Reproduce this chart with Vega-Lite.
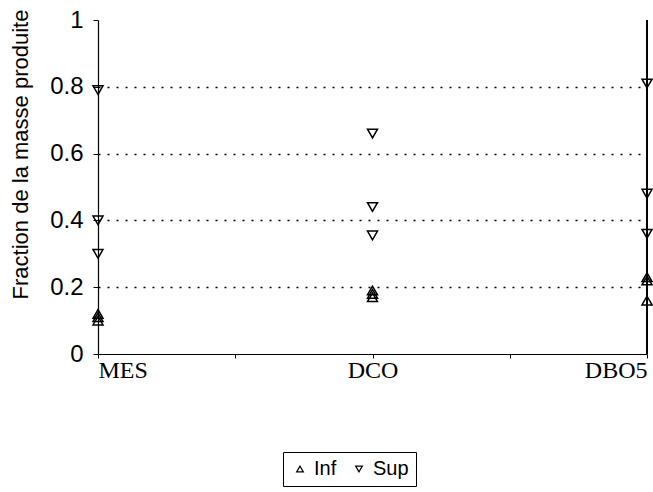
{
  "$schema": "https://vega.github.io/schema/vega-lite/v6.json",
  "autosize": "none",
  "width": 549,
  "height": 334,
  "padding": {"left": 98, "top": 20, "right": 6, "bottom": 138},
  "background": "white",
  "config": {
    "view": {"stroke": null},
    "font": "Liberation Sans"
  },
  "data": {
    "values": [
      {"x": 1, "cat": "MES", "serie": "Sup", "v": 0.79},
      {"x": 1, "cat": "MES", "serie": "Sup", "v": 0.40},
      {"x": 1, "cat": "MES", "serie": "Sup", "v": 0.30},
      {"x": 1, "cat": "MES", "serie": "Inf", "v": 0.12},
      {"x": 1, "cat": "MES", "serie": "Inf", "v": 0.11},
      {"x": 1, "cat": "MES", "serie": "Inf", "v": 0.10},
      {"x": 2, "cat": "DCO", "serie": "Sup", "v": 0.66},
      {"x": 2, "cat": "DCO", "serie": "Sup", "v": 0.44},
      {"x": 2, "cat": "DCO", "serie": "Sup", "v": 0.355},
      {"x": 2, "cat": "DCO", "serie": "Inf", "v": 0.19},
      {"x": 2, "cat": "DCO", "serie": "Inf", "v": 0.18},
      {"x": 2, "cat": "DCO", "serie": "Inf", "v": 0.17},
      {"x": 3, "cat": "DBO5", "serie": "Sup", "v": 0.81},
      {"x": 3, "cat": "DBO5", "serie": "Sup", "v": 0.48},
      {"x": 3, "cat": "DBO5", "serie": "Sup", "v": 0.36},
      {"x": 3, "cat": "DBO5", "serie": "Inf", "v": 0.23},
      {"x": 3, "cat": "DBO5", "serie": "Inf", "v": 0.22},
      {"x": 3, "cat": "DBO5", "serie": "Inf", "v": 0.16}
    ]
  },
  "layer": [
    {
      "mark": {"type": "rule", "color": "black", "strokeWidth": 1},
      "encoding": {"x": {"datum": 3, "type": "quantitative"}}
    },
    {
      "mark": {"type": "point", "filled": false, "stroke": "black", "strokeWidth": 1.5, "size": 100, "opacity": 1},
      "encoding": {
        "x": {
          "field": "x", "type": "quantitative",
          "scale": {"domain": [1, 3], "nice": false, "zero": false},
          "axis": {
            "title": null,
            "values": [1, 1.5, 2, 2.5, 3],
            "labelExpr": "datum.value == 1 ? 'MES' : datum.value == 2 ? 'DCO' : datum.value == 3 ? 'DBO5' : ''",
            "labelFont": "Liberation Serif",
            "labelFontSize": 24,
            "labelColor": "black",
            "labelFlush": true,
            "labelPadding": 0,
            "domainColor": "black",
            "domainWidth": 1.2,
            "tickColor": "black",
            "tickSize": 4,
            "grid": false
          }
        },
        "y": {
          "field": "v", "type": "quantitative",
          "scale": {"domain": [0, 1], "nice": false},
          "axis": {
            "title": "Fraction de la masse produite",
            "titleFont": "Liberation Sans",
            "titleFontSize": 22,
            "titleFontWeight": "normal",
            "titleColor": "black",
            "titleX": -66,
            "titleY": 134,
            "values": [0, 0.2, 0.4, 0.6, 0.8, 1],
            "format": "~g",
            "labelFont": "Liberation Sans",
            "labelFontSize": 24,
            "labelColor": "black",
            "labelPadding": 10,
            "domainColor": "black",
            "domainWidth": 1.2,
            "tickColor": "black",
            "tickSize": 5,
            "grid": true,
            "gridColor": "black",
            "gridDash": [2, 7],
            "gridWidth": 1.3,
            "gridOpacity": {"condition": {"test": "datum.value == 0 || datum.value == 1", "value": 0}, "value": 1}
          }
        },
        "shape": {
          "field": "serie", "type": "nominal",
          "scale": {"domain": ["Inf", "Sup"], "range": ["triangle-up", "triangle-down"]},
          "legend": {
            "title": null,
            "orient": "none",
            "direction": "horizontal",
            "legendX": 185,
            "legendY": 432,
            "strokeColor": "black",
            "padding": 7,
            "labelFont": "Liberation Sans",
            "labelFontSize": 20,
            "labelColor": "black",
            "symbolSize": 45,
            "symbolStrokeColor": "black",
            "symbolFillColor": "transparent",
            "symbolStrokeWidth": 1.2,
            "columnPadding": 12
          }
        }
      }
    }
  ]
}
